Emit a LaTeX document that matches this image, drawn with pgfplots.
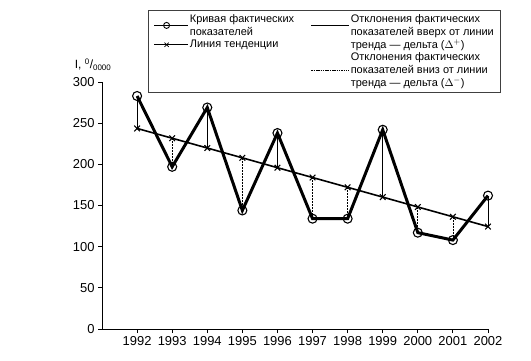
\documentclass[border=0pt]{standalone}
\usepackage{fontspec}
\setmainfont{Liberation Sans}
\usepackage{pgfplots}
\pgfplotsset{compat=1.18}
\pgfplotsset{
  shortleg/.style={legend image code/.code={\draw[mark repeat=2,mark phase=2,##1] plot coordinates {(0bp,0bp)(12.5bp,0bp)(25bp,0bp)}; \path (0bp,0bp) -- (33.5bp,0bp);}},
  longleg/.style={legend image code/.code={\draw[##1] (0bp,0bp) -- (29bp,0bp); \path (0bp,0bp) -- (37.5bp,0bp);}},
}
\begin{document}
\begin{tikzpicture}
\useasboundingbox (-102bp,-32bp) rectangle (429bp,329bp);
\begin{axis}[
  name=ax, scale only axis, width=386bp, height=247bp,
  xmin=1991, xmax=2002, ymin=0, ymax=300,
  axis lines=left, axis line style={-, line width=0.8pt},
  xtick={1992,...,2002}, ytick={0,50,...,300},
  tick align=outside, major tick length=4bp, tick style={line width=0.8pt, black},
  /pgf/number format/assume math mode=true,
  xticklabel style={/pgf/number format/1000 sep={}},
  ticklabel style={font=\fontsize{13}{15}\selectfont},
  clip=false,
  ylabel={I, \textsuperscript{0}/\textsubscript{0000}},
  every axis y label/.style={at={(axis description cs:-0.023,1.069)}, anchor=center, font=\fontsize{12}{13}\selectfont},
  legend columns=2, legend cell align=left,
  legend style={at={(axis description cs:0.119,1.292)}, anchor=north west, draw=black!75, line width=0.7pt,
    font=\fontsize{11}{13}\selectfont,
    nodes={align=left, inner sep=1.5bp, font=\fontsize{11}{13}\selectfont},
    inner xsep=5bp, inner ysep=2.5bp,
    /tikz/every even column/.append style={column sep=15.5bp}},
]
% deviations up (solid)
\addplot[black, line width=0.7pt, forget plot] coordinates {(1992,243.6) (1992,283)};
\addplot[black, line width=0.7pt, forget plot] coordinates {(1994,219.8) (1994,269)};
\addplot[black, line width=0.7pt, forget plot] coordinates {(1996,195.9) (1996,238)};
\addplot[black, line width=0.7pt, forget plot] coordinates {(1999,160.2) (1999,242)};
\addplot[black, line width=0.7pt, forget plot] coordinates {(2002,124.4) (2002,162)};
% deviations down (dashed)
\addplot[black, line width=0.7pt, dash pattern=on 2pt off 1pt, forget plot] coordinates {(1993,231.7) (1993,197)};
\addplot[black, line width=0.7pt, dash pattern=on 2pt off 1pt, forget plot] coordinates {(1995,207.9) (1995,144)};
\addplot[black, line width=0.7pt, dash pattern=on 2pt off 1pt, forget plot] coordinates {(1997,184.0) (1997,134)};
\addplot[black, line width=0.7pt, dash pattern=on 2pt off 1pt, forget plot] coordinates {(1998,172.1) (1998,134)};
\addplot[black, line width=0.7pt, dash pattern=on 2pt off 1pt, forget plot] coordinates {(2000,148.2) (2000,117)};
\addplot[black, line width=0.7pt, dash pattern=on 2pt off 1pt, forget plot] coordinates {(2001,136.3) (2001,108)};
% trend
\addplot[black, line width=1.6pt, mark=x, mark size=4bp, mark options={line width=1.1pt}, forget plot] coordinates {
(1992,243.6) (1993,231.7) (1994,219.8) (1995,207.9) (1996,195.9) (1997,184.0)
(1998,172.1) (1999,160.2) (2000,148.2) (2001,136.3) (2002,124.4)};
% actual
\addplot[black, line width=3pt, mark=o, mark size=4.5bp, mark options={fill=white, line width=1.1pt}, forget plot] coordinates {
(1992,283) (1993,197) (1994,269) (1995,144) (1996,238) (1997,134)
(1998,134) (1999,242) (2000,117) (2001,108) (2002,162)};
% legend
\addlegendimage{shortleg, black, line width=1.6pt, mark=o, mark size=3bp, mark options={fill=white, line width=0.9pt}}
\addlegendentry{Кривая фактических\\показателей}
\addlegendimage{longleg, black, line width=0.7pt}
\addlegendentry{Отклонения фактических\\показателей вверх от линии}
\addlegendimage{shortleg, black, line width=1pt, mark=x, mark size=3bp, mark options={line width=0.8pt}}
\addlegendentry{Линия тенденции}
\addlegendimage{empty legend}
\addlegendentry{тренда — дельта ($\Delta^{+}$)\rule[-4bp]{0pt}{4bp}}
\addlegendimage{empty legend}
\addlegendentry{}
\addlegendimage{longleg, black, line width=0.7pt, dash pattern=on 1.5pt off 0.8pt}
\addlegendentry{Отклонения фактических\\показателей вниз от линии\\тренда — дельта ($\Delta^{-}$)}
\end{axis}
\end{tikzpicture}
\end{document}
